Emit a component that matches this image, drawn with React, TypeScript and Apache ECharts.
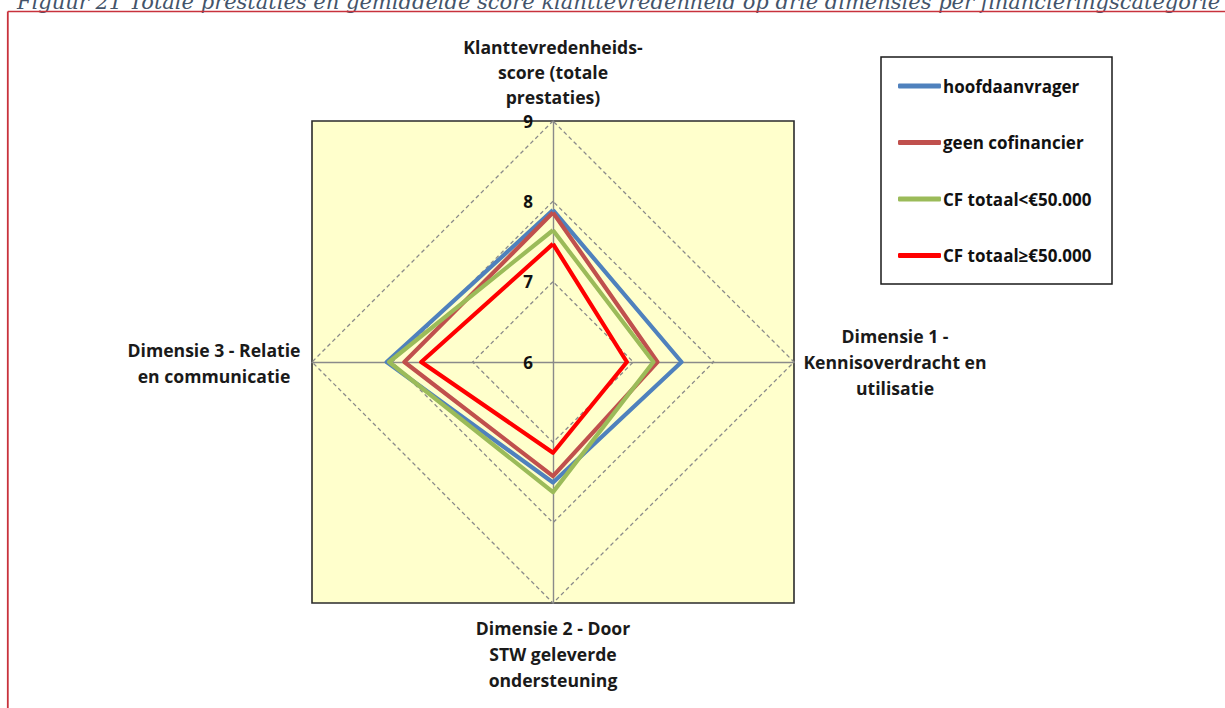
import React, { useEffect, useRef } from "react";
import * as echarts from "echarts";

// Indicators (clockwise from top, as in the reference)
const indicatorNames = [
  "Klanttevredenheids-\nscore (totale\nprestaties)",
  "Dimensie 1 -\nKennisoverdracht en\nutilisatie",
  "Dimensie 2 - Door\nSTW geleverde\nondersteuning",
  "Dimensie 3 - Relatie\nen communicatie",
];
const seriesNames = [
  "hoofdaanvrager",
  "geen cofinancier",
  "CF totaal<€50.000",
  "CF totaal≥€50.000",
];
const seriesColors = ["#4F81BD", "#C0504D", "#9BBB59", "#FF0000"];
// values per indicator (same order as indicatorNames)
const hoofdaanvrager = [7.89, 7.6, 7.5, 8.07];
const geenCofinancier = [7.86, 7.3, 7.42, 7.85];
const cfOnder50k = [7.64, 7.25, 7.62, 8.04];
const cfVanaf50k = [7.47, 6.92, 7.13, 7.64];
const axisMin = 6;
const axisMax = 9;
const tickLabels = ["6", "7", "8", "9"];
const titleText =
  "Figuur 21 Totale prestaties en gemiddelde score klanttevredenheid op drie dimensies per financieringscategorie";

// ECharts radar places indicators counter-clockwise; reorder to get clockwise layout
const radarOrder = [0, 3, 2, 1];

const CX = 553;
const CY = 362;
const R = 241;

export default function App() {
  const ref = useRef<HTMLDivElement>(null);
  useEffect(() => {
    document.body.style.margin = "0";
    if (!ref.current) return;
    const chart = echarts.init(ref.current, undefined, { renderer: "svg" });
    const allSeries = [hoofdaanvrager, geenCofinancier, cfOnder50k, cfVanaf50k];
    const labelFont = {
      fontFamily: "Open Sans",
      fontWeight: "bold" as const,
      fontSize: 17.6,
    };
    const nameText = (text: string, x: number, y: number, lh: number) => ({
      type: "text",
      z: 10,
      style: {
        text,
        x,
        y,
        ...labelFont,
        lineHeight: lh,
        fill: "#1a1a1a",
        align: "center",
        textAlign: "center",
        verticalAlign: "middle",
        textVerticalAlign: "middle",
      },
    });
    chart.setOption({
      animation: false,
      backgroundColor: "#ffffff",
      radar: {
        center: [CX, CY],
        radius: R,
        startAngle: 90,
        shape: "polygon",
        splitNumber: 3,
        indicator: radarOrder.map((i, k) => ({
          name: indicatorNames[i],
          min: axisMin,
          max: axisMax,
          ...(k === 0
            ? {
                axisLabel: {
                  show: true,
                  ...labelFont,
                  fontSize: 17,
                  color: "#111",
                  margin: 20,
                  formatter: (v: number) =>
                    tickLabels.indexOf(String(v)) >= 0 ? String(v) : "",
                },
              }
            : {}),
        })),
        axisName: { show: false },
        axisLabel: { show: false },
        axisTick: { show: false },
        axisLine: { lineStyle: { color: "#8a8a8a", width: 1.4 } },
        splitLine: {
          lineStyle: { color: "#8a8a8a", width: 1.3, type: [4, 3] },
        },
        splitArea: { show: false },
      },
      legend: {
        data: seriesNames,
        orient: "vertical",
        left: 898,
        top: 77,
        padding: 0,
        itemWidth: 43,
        itemHeight: 5,
        itemGap: 38.5,
        icon: "roundRect",
        textStyle: {
          ...labelFont,
          fontSize: 17,
          lineHeight: 18,
          color: "#111",
          padding: [0, 0, 0, -3],
        },
      },
      graphic: [
        {
          type: "text",
          z: 10,
          style: {
            text: titleText,
            x: 17,
            y: 2,
            fontFamily: "DejaVu Serif",
            fontStyle: "italic",
            fontSize: 21,
            fill: "#44546A",
            verticalAlign: "middle",
            textVerticalAlign: "middle",
          },
        },
        {
          type: "line",
          z: 10,
          shape: { x1: 7.8, y1: 11.5, x2: 1225, y2: 11.5 },
          style: { stroke: "#C8323C", lineWidth: 1.6 },
        },
        {
          type: "line",
          z: 10,
          shape: { x1: 7.8, y1: 11.5, x2: 7.8, y2: 708 },
          style: { stroke: "#C8323C", lineWidth: 1.8 },
        },
        {
          type: "rect",
          z: -1,
          shape: { x: CX - R, y: CY - R, width: 2 * R, height: 2 * R },
          style: { fill: "#FFFFCC", stroke: "#2b2b2b", lineWidth: 1.6 },
        },
        {
          type: "rect",
          z: -1,
          shape: { x: 881, y: 57, width: 231, height: 227 },
          style: { fill: "#ffffff", stroke: "#1a1a1a", lineWidth: 1.5 },
        },
        nameText(indicatorNames[0], 553, 72, 25),
        nameText(indicatorNames[1], 895, 362, 26),
        nameText(indicatorNames[2], 553, 654, 26),
        nameText(indicatorNames[3], 214, 363, 26),
      ],
      series: [
        {
          type: "radar",
          symbol: "none",
          data: allSeries.map((vals, s) => ({
            name: seriesNames[s],
            value: radarOrder.map((i) => vals[i]),
            lineStyle: { color: seriesColors[s], width: 4.2 },
            itemStyle: { color: seriesColors[s] },
          })),
        },
      ],
    });
    return () => chart.dispose();
  }, []);
  return <div ref={ref} style={{ width: 1225, height: 708 }} />;
}
